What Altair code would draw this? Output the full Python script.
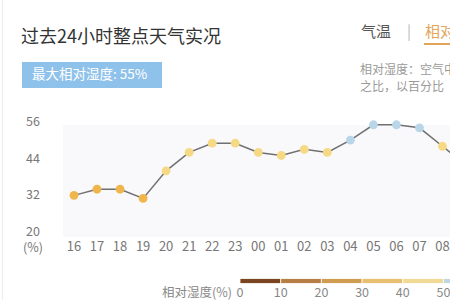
import altair as alt
import pandas as pd

# ---- data ----
hours = ["16", "17", "18", "19", "20", "21", "22", "23", "00", "01", "02", "03",
         "04", "05", "06", "07", "08", "09"]
humidity = [32, 34, 34, 31, 40, 46, 49, 49, 46, 45, 47, 46, 50, 55, 55, 54, 48, 42]
y_ticks = [20, 32, 44, 56]
legend_stops = [0, 10, 20, 30, 40, 50]
legend_colors = ["#7b4521", "#b67d45", "#cf9c52", "#e6bf70", "#f1da96", "#bdd7e3"]

FONT = "Noto Sans CJK SC"

df = pd.DataFrame({"idx": list(range(len(hours))), "hour": hours, "h": humidity})
df_lab = df[df["idx"] <= 16]
df_y = pd.DataFrame({"v": y_ticks})
df_leg = pd.DataFrame({"lo": legend_stops,
                       "hi": [s + 10 for s in legend_stops],
                       "c": legend_colors})

xs = alt.Scale(domain=[0, 16], range=[74, 442.5])
ys = alt.Scale(domain=[20, 56], range=[232.2, 121.7])
ls = alt.Scale(domain=[0, 50], range=[240, 443.5])
cs = alt.Scale(type="threshold", domain=[40, 50],
               range=["#f0b64c", "#f5d985", "#b9d6e8"])

def T(text, x, y, size=13, color="#666", align="left", weight="normal"):
    return alt.Chart(pd.DataFrame({"t": [text]})).mark_text(
        align=align, baseline="middle", font=FONT, fontSize=size,
        color=color, fontWeight=weight
    ).encode(x=alt.value(x), y=alt.value(y), text="t:N")

one = pd.DataFrame({"a": [0]})

border = alt.Chart(one).mark_rule(color="#ececec", strokeWidth=1).encode(
    x=alt.value(2.5), y=alt.value(0), y2=alt.value(300))

plotbg = alt.Chart(one).mark_rect(color="#f9f9fc").encode(
    x=alt.value(63), x2=alt.value(450), y=alt.value(125), y2=alt.value(237))

badge = alt.Chart(one).mark_rect(color="#8fc2ea").encode(
    x=alt.value(22), x2=alt.value(162), y=alt.value(62), y2=alt.value(88))

underline = alt.Chart(one).mark_rect(color="#e2a55a").encode(
    x=alt.value(424), x2=alt.value(450), y=alt.value(43), y2=alt.value(45))

line = alt.Chart(df).mark_line(color="#707070", strokeWidth=1.5, clip=True).encode(
    x=alt.X("idx:Q", scale=xs, axis=None),
    y=alt.Y("h:Q", scale=ys, axis=None))

pts = alt.Chart(df).mark_circle(size=78, opacity=1, clip=True).encode(
    x=alt.X("idx:Q", scale=xs, axis=None),
    y=alt.Y("h:Q", scale=ys, axis=None),
    color=alt.Color("h:Q", scale=cs, legend=None))

xlab = alt.Chart(df_lab).mark_text(font=FONT, fontSize=13, color="#777",
                                   baseline="middle").encode(
    x=alt.X("idx:Q", scale=xs, axis=None), y=alt.value(247), text="hour:N")

ylab = alt.Chart(df_y).mark_text(font=FONT, fontSize=12.5, color="#777",
                                 align="right", baseline="middle").encode(
    x=alt.value(40), y=alt.Y("v:Q", scale=ys, axis=None), text="v:Q")

legbar = alt.Chart(df_leg).mark_rect(stroke="white", strokeWidth=0.8).encode(
    x=alt.X("lo:Q", scale=ls, axis=None), x2="hi:Q",
    y=alt.value(278.5), y2=alt.value(283.5),
    color=alt.Color("c:N", scale=None))

leglab = alt.Chart(df_leg).mark_text(font=FONT, fontSize=12.5, color="#888",
                                     baseline="middle").encode(
    x=alt.X("lo:Q", scale=ls, axis=None), y=alt.value(293), text="lo:Q")

chart = alt.layer(
    border, plotbg, badge, underline,
    T("过去24小时整点天气实况", 21, 38, size=18, color="#333"),
    T("最大相对湿度: 55%", 32, 75, size=13.5, color="#ffffff"),
    T("气温", 361, 32, size=15, color="#555"),
    T("|", 407, 32, size=15, color="#bbb"),
    T("相对湿度", 425, 32, size=15, color="#e2a55a"),
    T("相对湿度：空气中的水汽", 360, 70, size=12, color="#9a9a9a"),
    T("之比，以百分比", 360, 87, size=12, color="#9a9a9a"),
    line, pts, xlab, ylab,
    T("(%)", 43, 248, size=12.5, color="#777", align="right"),
    T("相对湿度(%)", 162, 293, size=12.5, color="#888"),
    legbar, leglab,
).resolve_scale(x="independent", y="independent", color="independent").properties(
    width=450, height=300,
    autosize=alt.AutoSizeParams(type="none"),
    padding=0,
    background="white",
).configure_view(stroke=None)

chart.save("out.html", embed_options={"renderer": "svg", "actions": False})
